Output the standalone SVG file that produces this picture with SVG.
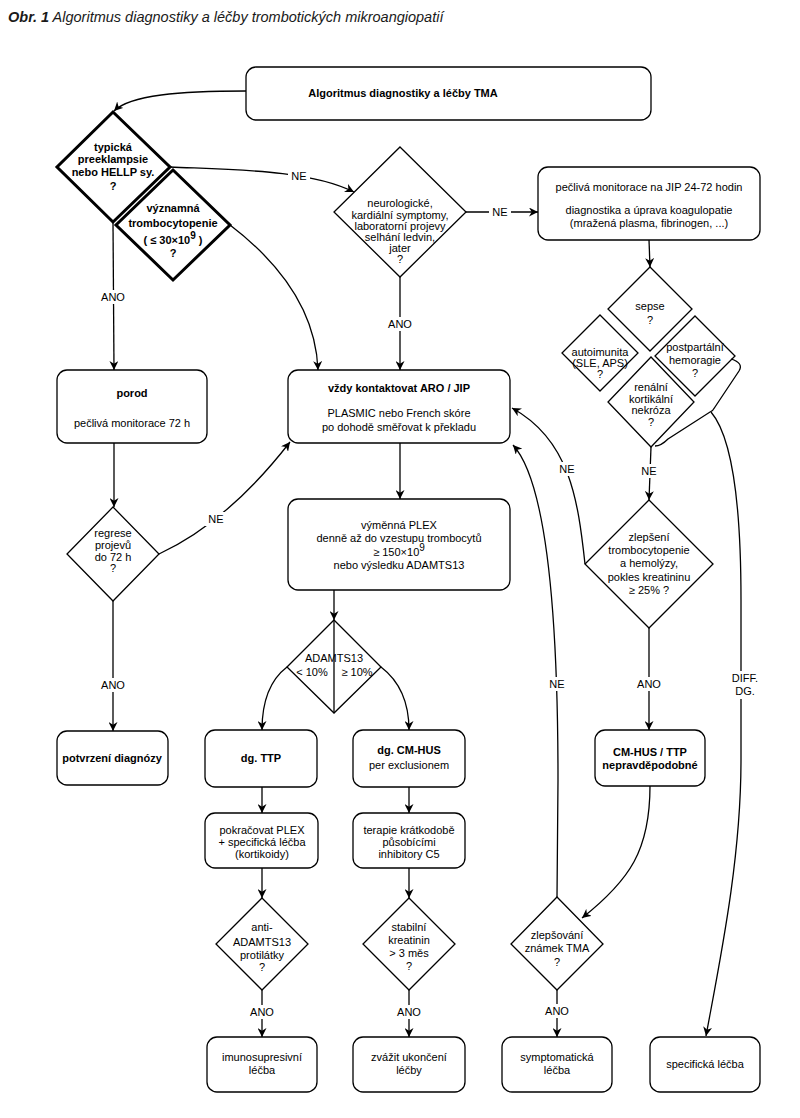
<svg xmlns="http://www.w3.org/2000/svg" width="800" height="1118" viewBox="0 0 800 1118">
<style>
text{font-family:"Liberation Sans",Arial,sans-serif;font-size:11px;fill:#000;text-anchor:middle}
.b{font-weight:bold}
.n{fill:#fff;stroke:#000;stroke-width:1.3}
.thick{stroke-width:3}
.c{fill:none;stroke:#000;stroke-width:1.3}
.a{marker-end:url(#arr)}
.lb{fill:#fff;stroke:none}
.title{font-size:14.5px;font-style:italic;text-anchor:start;fill:#1a1a1a}
</style>
<defs>
<marker id="arr" viewBox="0 0 10 10" refX="10" refY="5" markerWidth="9" markerHeight="9" orient="auto" markerUnits="userSpaceOnUse"><path d="M0,0 L10,5 L0,10 L3,5 z" fill="#000"/></marker>
</defs>
<rect width="800" height="1118" fill="#fff"/>
<text class="title" x="8" y="22"><tspan font-weight="bold">Obr. 1</tspan> Algoritmus diagnostiky a léčby trombotických mikroangiopatií</text>

<g id="connectors">
<path class="c a" d="M246,91 C180,91 130,95 114,111"/>
<path class="c a" d="M170,167 C240,170 310,170 354,192"/>
<rect class="lb" x="288" y="169" width="22" height="14"/><text x="299" y="180">NE</text>
<path class="c a" d="M465,212 L538,212"/>
<rect class="lb" x="489" y="205" width="22" height="14"/><text x="500" y="216">NE</text>
<path class="c a" d="M649,240 L650,267"/>
<path class="c a" d="M400,277 L400,370"/>
<rect class="lb" x="386" y="317" width="28" height="14"/><text x="400" y="328">ANO</text>
<path class="c a" d="M230,225 Q315,290 318,370"/>
<path class="c a" d="M113,222 L114,370"/>
<rect class="lb" x="99" y="290" width="28" height="14"/><text x="113" y="301">ANO</text>
<path class="c a" d="M114,443 L114,507"/>
<path class="c a" d="M159,554 C200,535 245,500 290,442"/>
<rect class="lb" x="205" y="512" width="22" height="14"/><text x="216" y="523">NE</text>
<path class="c a" d="M113,601 L113,731"/>
<rect class="lb" x="99" y="678" width="28" height="14"/><text x="113" y="689">ANO</text>
<path class="c a" d="M400,443 L400,499"/>
<path class="c a" d="M334,590 L334,620"/>
<path class="c a" d="M287,667 C270,680 262,700 262,730"/>
<path class="c a" d="M381,667 C398,680 409,700 409,730"/>
<path class="c a" d="M262,787 L262,813"/>
<path class="c a" d="M409,787 L409,813"/>
<path class="c a" d="M262,868 L262,898"/>
<path class="c a" d="M409,868 L409,898"/>
<path class="c a" d="M262,990 L262,1037"/>
<rect class="lb" x="248" y="1005" width="28" height="14"/><text x="262" y="1016">ANO</text>
<path class="c a" d="M409,990 L409,1037"/>
<rect class="lb" x="395" y="1005" width="28" height="14"/><text x="409" y="1016">ANO</text>
<path class="c a" d="M557,990 L557,1037"/>
<rect class="lb" x="543" y="1004" width="28" height="14"/><text x="557" y="1015">ANO</text>
<path class="c a" d="M651,447 L649,500"/>
<rect class="lb" x="638" y="464" width="22" height="14"/><text x="649" y="475">NE</text>
<path class="c a" d="M649,628 L649,730"/>
<rect class="lb" x="635" y="677" width="28" height="14"/><text x="649" y="688">ANO</text>
<path class="c a" d="M650,786 C650,850 630,880 582,918"/>
<path class="c a" d="M585,564 C578,500 570,440 512,408"/>
<rect class="lb" x="556" y="462" width="22" height="14"/><text x="567" y="473">NE</text>
<path class="c a" d="M557,897 L558,780 C558,600 545,480 513,445"/>
<rect class="lb" x="546" y="677" width="22" height="14"/><text x="557" y="688">NE</text>
<path class="c a" d="M711,412 C735,440 741,520 741,600 L741,760 C741,860 720,960 706,1036"/>
<rect class="lb" x="729" y="671" width="32" height="28"/><text x="745" y="682">DIFF.</text><text x="745" y="695">DG.</text>
</g>

<g id="n-title"><rect class="n" x="246" y="67" width="405" height="53" rx="10"/><text class="b" x="403" y="97">Algoritmus diagnostiky a léčby TMA</text></g>

<g id="n-preeklampsie"><polygon class="n thick" points="113,112 170,167 113,222 57,167"/>
<text class="b" x="113" y="151">typická</text><text class="b" x="113" y="163">preeklampsie</text><text class="b" x="113" y="176">nebo HELLP sy.</text><text class="b" x="113" y="190">?</text></g>

<g id="n-trombocytopenie"><polygon class="n thick" points="173,170 230,225 173,280 116,225"/>
<text class="b" x="173" y="212">významná</text><text class="b" x="173" y="227">trombocytopenie</text><text class="b" x="173" y="244">( ≤ 30×10<tspan dy="-5" font-size="10">9</tspan><tspan dy="5"> )</tspan></text><text class="b" x="173" y="257">?</text></g>

<g id="n-neuro"><polygon class="n" points="400,147 466,212 400,277 334,212"/>
<text x="400" y="207">neurologické,</text><text x="400" y="219">kardiální symptomy,</text><text x="400" y="230">laboratorní projevy</text><text x="400" y="241">selhání ledvin,</text><text x="400" y="252">jater</text><text x="400" y="263">?</text></g>

<g id="n-jip"><rect class="n" x="538" y="167" width="222" height="73" rx="10"/>
<text x="649" y="191">pečlivá monitorace na JIP 24-72 hodin</text><text x="649" y="214">diagnostika a úprava koagulopatie</text><text x="649" y="227">(mražená plasma, fibrinogen, ...)</text></g>

<g id="n-sepse"><polygon class="n" points="650,267 692,309 650,351 608,309"/><text x="650" y="310">sepse</text><text x="650" y="324">?</text></g>
<g id="n-autoimunita"><polygon class="n" points="600,315 638,353 600,391 562,353"/><text x="600" y="356">autoimunita</text><text x="600" y="367">(SLE, APS)</text><text x="600" y="378">?</text></g>
<g id="n-postpartalni"><polygon class="n" points="695,316 735,356 695,396 655,356"/><text x="695" y="351">postpartální</text><text x="695" y="364">hemoragie</text><text x="695" y="377">?</text></g>
<g id="n-renalni"><polygon class="n" points="651,357 694,402 651,447 608,402"/><text x="651" y="391">renální</text><text x="651" y="403">kortikální</text><text x="651" y="414">nekróza</text><text x="651" y="426">?</text></g>
<path id="brace" class="c" d="M731,359 Q744,363 739,371 L715,407 Q713,411 710,412 L668,439 Q661,446 655,446"/>

<g id="n-vzdy"><rect class="n" x="288" y="370" width="222" height="73" rx="10"/>
<text class="b" x="399" y="392">vždy kontaktovat ARO / JIP</text><text x="399" y="417">PLASMIC nebo French skóre</text><text x="399" y="431">po  dohodě směřovat k překladu</text></g>

<g id="n-porod"><rect class="n" x="57" y="370" width="150" height="73" rx="10"/>
<text class="b" x="132" y="397">porod</text><text x="132" y="427">pečlivá monitorace 72 h</text></g>

<g id="n-regrese"><polygon class="n" points="113,507 159,554 113,601 67,554"/>
<text x="113" y="537">regrese</text><text x="113" y="549">projevů</text><text x="113" y="561">do 72 h</text><text x="113" y="572">?</text></g>

<g id="n-potvrzeni"><rect class="n" x="57" y="731" width="111" height="54" rx="10"/><text class="b" x="112" y="762">potvrzení diagnózy</text></g>

<g id="n-plex"><rect class="n" x="288" y="499" width="222" height="91" rx="10"/>
<text x="399" y="529">výměnná PLEX</text><text x="399" y="542">denně až do vzestupu trombocytů</text><text x="399" y="556">≥ 150×10<tspan dy="-5" font-size="10">9</tspan></text><text x="399" y="569">nebo výsledku ADAMTS13</text></g>

<g id="n-adamts"><polygon class="n" points="334,620 381,667 334,713 287,667"/><path class="c" d="M334,620 L334,713"/>
<text x="334" y="662">ADAMTS13</text><text x="312" y="676">&lt; 10%</text><text x="357" y="676">≥ 10%</text></g>

<g id="n-ttp"><rect class="n" x="205" y="730" width="112" height="57" rx="10"/><text class="b" x="261" y="762">dg. TTP</text></g>
<g id="n-cmhus"><rect class="n" x="353" y="730" width="112" height="57" rx="10"/><text class="b" x="409" y="754">dg. CM-HUS</text><text x="409" y="769">per exclusionem</text></g>

<g id="n-pokracovat"><rect class="n" x="205" y="813" width="113" height="55" rx="10"/><text x="262" y="834">pokračovat PLEX</text><text x="262" y="846">+ specifická léčba</text><text x="262" y="858">(kortikoidy)</text></g>
<g id="n-terapie"><rect class="n" x="353" y="813" width="112" height="55" rx="10"/><text x="409" y="834">terapie krátkodobě</text><text x="409" y="846">působícími</text><text x="409" y="858">inhibitory C5</text></g>

<g id="n-anti"><polygon class="n" points="262,898 308,944 262,990 216,944"/><text x="262" y="931">anti-</text><text x="262" y="946">ADAMTS13</text><text x="262" y="959">protilátky</text><text x="262" y="971">?</text></g>
<g id="n-stabilni"><polygon class="n" points="409,898 455,944 409,990 363,944"/><text x="409" y="931">stabilní</text><text x="409" y="944">kreatinin</text><text x="409" y="957">&gt; 3 měs</text><text x="409" y="970">?</text></g>

<g id="n-imuno"><rect class="n" x="207" y="1037" width="110" height="55" rx="10"/><text x="262" y="1061">imunosupresivní</text><text x="262" y="1074">léčba</text></g>
<g id="n-zvazit"><rect class="n" x="353" y="1037" width="112" height="55" rx="10"/><text x="409" y="1061">zvážit ukončení</text><text x="409" y="1074">léčby</text></g>

<g id="n-zlepseni"><polygon class="n" points="649,500 713,564 649,628 585,564"/>
<text x="649" y="541">zlepšení</text><text x="649" y="554">trombocytopenie</text><text x="649" y="567">a hemolýzy,</text><text x="649" y="581">pokles kreatininu</text><text x="649" y="594">≥ 25% ?</text></g>

<g id="n-nepravdepodobne"><rect class="n" x="595" y="730" width="110" height="56" rx="10"/><text class="b" x="650" y="756">CM-HUS / TTP</text><text class="b" x="650" y="769">nepravděpodobné</text></g>

<g id="n-zlepsovani"><polygon class="n" points="557,897 603,944 557,990 511,944"/><text x="557" y="939">zlepšování</text><text x="557" y="952">známek TMA</text><text x="557" y="966">?</text></g>

<g id="n-symptomaticka"><rect class="n" x="502" y="1037" width="110" height="55" rx="10"/><text x="557" y="1061">symptomatická</text><text x="557" y="1074">léčba</text></g>
<g id="n-specificka"><rect class="n" x="650" y="1037" width="110" height="55" rx="10"/><text x="705" y="1068">specifická léčba</text></g>
</svg>
